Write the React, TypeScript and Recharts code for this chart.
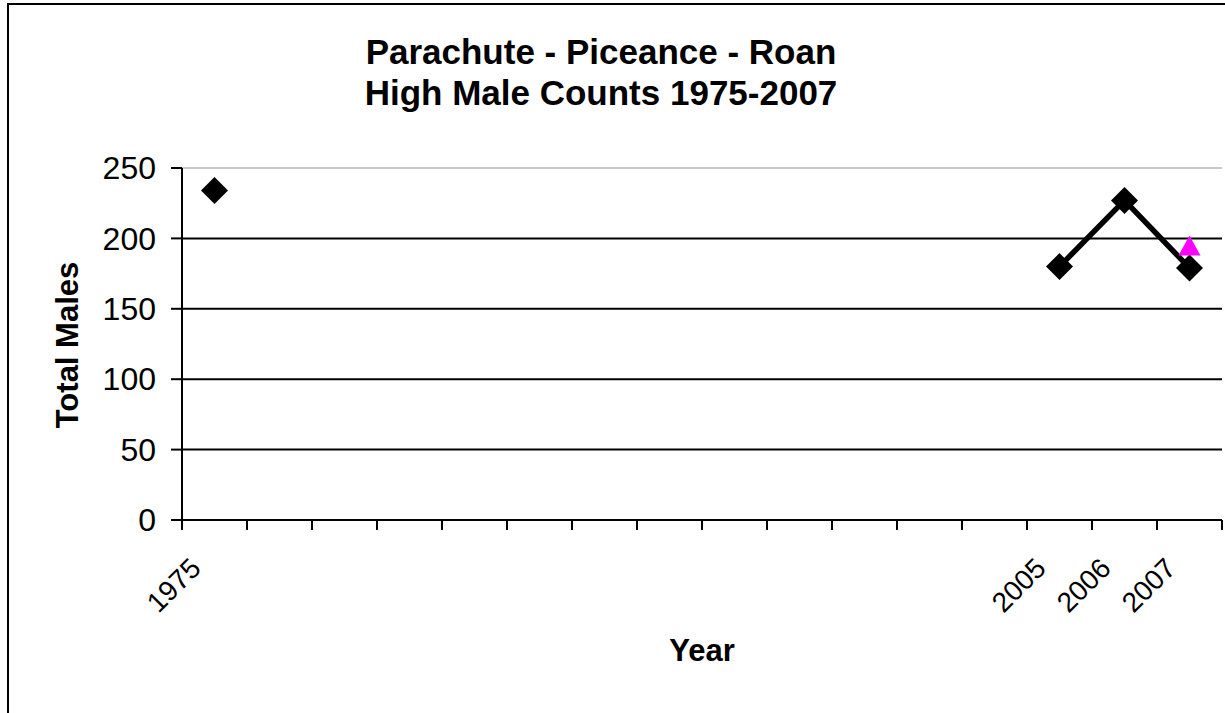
import React from 'react';
import { LineChart, Line, XAxis, YAxis, ReferenceLine, Label } from 'recharts';

const FONT = '"Liberation Sans", Arial, Helvetica, sans-serif';

const categories = ['1975', '', '', '', '', '', '', '', '', '', '', '', '', '2005', '2006', '2007'];
const highMaleCounts: (number | null)[] = [234, null, null, null, null, null, null, null, null, null, null, null, null, 180, 227, 179];
const otherCounts: (number | null)[] = [null, null, null, null, null, null, null, null, null, null, null, null, null, null, null, 195];
const yTicks = [0, 50, 100, 150, 200, 250];
const gridValues = [50, 100, 150, 200];
const topValue = 250;

const data = categories.map((c, i) => ({ pos: i + 0.5, year: c, count: highMaleCounts[i], other: otherCounts[i] }));
const xTicks: number[] = [];
for (let i = 0; i <= categories.length; i++) {
  xTicks.push(i);
  if (i < categories.length) xTicks.push(i + 0.5);
}

const XTick = (props: any) => {
  const { x, y, payload } = props;
  const v = payload.value;
  if (Number.isInteger(v)) {
    return <line x1={x} x2={x} y1={y} y2={y + 10} stroke="#000" strokeWidth={2} />;
  }
  const label = categories[Math.floor(v)];
  if (!label) return <g />;
  return (
    <text transform={`translate(${x - 12},${y + 50}) rotate(-45)`} textAnchor="end" fontSize={28} fontFamily={FONT} fill="#000">
      {label}
    </text>
  );
};

const YTick = (props: any) => {
  const { x, y, payload } = props;
  return (
    <text x={x} y={y} dy={11.2} textAnchor="end" fontSize={32} fontFamily={FONT} fill="#000">
      {payload.value}
    </text>
  );
};

const Diamond = (props: any) => {
  const { cx, cy, value, index } = props;
  if (value == null || cx == null || cy == null) return <g key={`d${index}`} />;
  const r = 13.5;
  return <path key={`d${index}`} d={`M${cx},${cy - r}L${cx + r},${cy}L${cx},${cy + r}L${cx - r},${cy}Z`} fill="#000" />;
};

const Triangle = (props: any) => {
  const { cx, cy, value, index } = props;
  if (value == null || cx == null || cy == null) return <g key={`t${index}`} />;
  const w = 11, h = 10;
  return <path key={`t${index}`} d={`M${cx},${cy - h}L${cx + w},${cy + h}L${cx - w},${cy + h}Z`} fill="#FF00FF" />;
};

const YTitle = (props: any) => {
  const vb = props.viewBox || { y: 168, height: 352 };
  const cx = 78;
  const cy = vb.y + vb.height / 2 + 1;
  return (
    <text x={cx} y={cy} transform={`rotate(-90 ${cx} ${cy})`} textAnchor="middle" fontSize={31} fontWeight="bold" fontFamily={FONT} fill="#000">
      Total Males
    </text>
  );
};

const XTitle = (props: any) => {
  const vb = props.viewBox || { x: 182, width: 1040 };
  const cx = vb.x + vb.width / 2;
  return (
    <text x={cx} y={661} textAnchor="middle" fontSize={31} fontWeight="bold" fontFamily={FONT} fill="#000">
      Year
    </text>
  );
};

const titleStyle: React.CSSProperties = {
  position: 'absolute',
  left: 0,
  width: 1202,
  textAlign: 'center',
  fontFamily: FONT,
  fontWeight: 'bold',
  fontSize: 35,
  lineHeight: '35px',
  color: '#000',
  whiteSpace: 'nowrap',
};

export default function App() {
  return (
    <div style={{ position: 'absolute', left: 0, top: 0, width: 1225, height: 713, background: '#fff', overflow: 'hidden' }}>
      <div style={{ position: 'absolute', left: 7, top: 3, width: 1400, height: 900, border: '2px solid #000', boxSizing: 'border-box' }} />
      <div style={{ ...titleStyle, top: 34 }}>Parachute - Piceance - Roan</div>
      <div style={{ ...titleStyle, top: 75 }}>High Male Counts 1975-2007</div>
      <div style={{ position: 'absolute', left: 0, top: 0 }}>
        <LineChart width={1225} height={713} data={data} margin={{ top: 168, right: 3, bottom: 133, left: 82 }}>
          <XAxis
            dataKey="pos"
            type="number"
            domain={[0, categories.length]}
            ticks={xTicks}
            interval={0}
            allowDecimals
            height={60}
            tickSize={0}
            tickMargin={0}
            tickLine={false}
            axisLine={{ stroke: '#000', strokeWidth: 2 }}
            tick={<XTick />}
          >
            <Label content={<XTitle />} />
          </XAxis>
          <YAxis
            type="number"
            domain={[0, 250]}
            ticks={yTicks}
            interval={0}
            width={100}
            tickSize={11}
            tickMargin={15}
            tickLine={{ stroke: '#000', strokeWidth: 2 }}
            axisLine={{ stroke: '#000', strokeWidth: 2 }}
            tick={<YTick />}
          >
            <Label content={<YTitle />} />
          </YAxis>
          <ReferenceLine y={topValue} stroke="#c8c8c8" strokeWidth={2} />
          {gridValues.map((v) => (
            <ReferenceLine key={v} y={v} stroke="#000" strokeWidth={2} />
          ))}
          <Line dataKey="count" stroke="#000" strokeWidth={5.5} connectNulls={false} dot={<Diamond />} activeDot={false} isAnimationActive={false} />
          <Line dataKey="other" stroke="none" dot={<Triangle />} activeDot={false} isAnimationActive={false} />
        </LineChart>
      </div>
    </div>
  );
}
